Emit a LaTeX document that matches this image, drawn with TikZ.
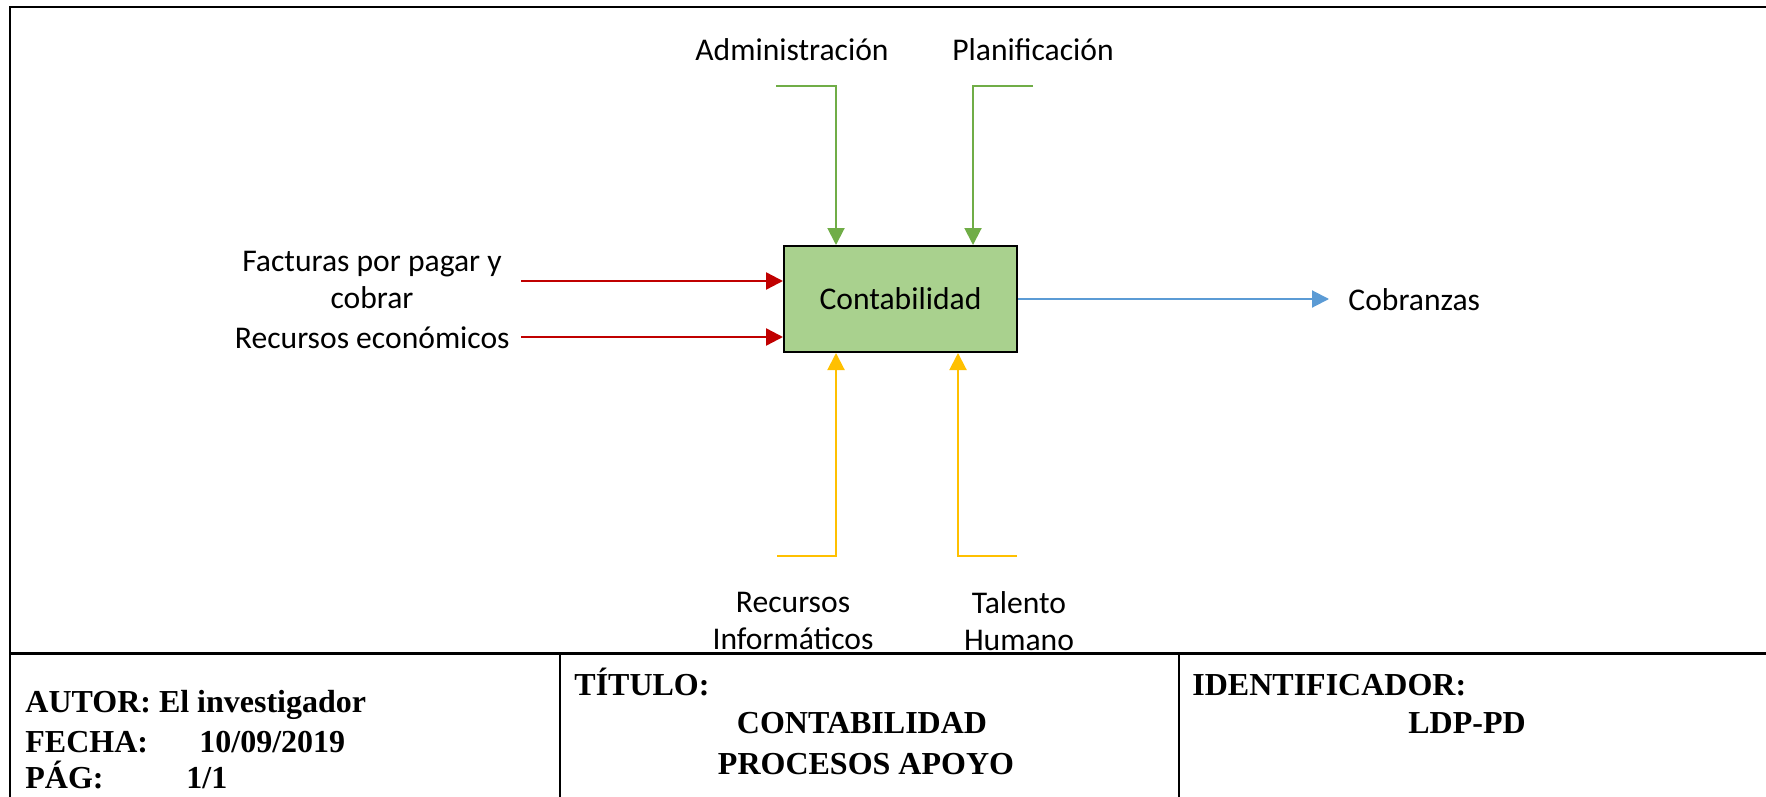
\documentclass[tikz,border=0pt]{standalone}
\usepackage{fontspec}
\setmainfont{Liberation Serif}
\newfontfamily\calibri{Carlito}
\usetikzlibrary{arrows.meta,positioning}
\definecolor{idefgreen}{RGB}{112,173,71}
\definecolor{idefbox}{RGB}{169,209,142}
\definecolor{idefyellow}{RGB}{255,192,0}
\definecolor{idefred}{RGB}{192,0,0}
\definecolor{idefblue}{RGB}{91,155,213}

\begin{document}
\begin{tikzpicture}[x=0.5pt,y=-0.5pt,
  lbl/.style={inner sep=0pt, align=center, font=\calibri\fontsize{15.8}{18.5}\selectfont},
  cell/.style={inner sep=0pt, anchor=base west, font=\bfseries\fontsize{16}{19}\selectfont},
  tip/.style={-{Triangle[length=8.5pt,width=8.5pt]}}]
  \useasboundingbox (0,0) rectangle (1766,797);
  % Process box
  \node[draw=black, fill=idefbox, line width=1pt, minimum width=116.5pt, minimum height=53pt,
        inner sep=0pt, font=\calibri\fontsize{15.8}{18.5}\selectfont] (conta) at (900.5,299) {Contabilidad};
  % Controls (top)
  \node[lbl] (admin) at (792,50) {Administración};
  \node[lbl] (plan) at (1033,50) {Planificación};
  \coordinate (adm-in) at (776,86);
  \coordinate (plan-in) at (1033,86);
  \draw[tip, idefgreen, line width=1pt] (adm-in) -| ([xshift=26.5pt]conta.north west);
  \draw[tip, idefgreen, line width=1pt] (plan-in) -| ([xshift=-22.5pt]conta.north east);
  % Inputs (left)
  \node[lbl] (fact) at (372,280) {Facturas por pagar y\\cobrar};
  \node[lbl, anchor=east] (receco) at (510,338) {Recursos económicos};
  \coordinate (fact-in) at (521,281);
  \coordinate (rec-in) at (521,337);
  \draw[tip, idefred, line width=1.2pt] (fact-in) -- (fact-in -| conta.west);
  \draw[tip, idefred, line width=1.2pt] (rec-in) -- (rec-in -| conta.west);
  % Mechanisms (bottom)
  \node[lbl] (recinf) at (793,621) {Recursos\\Informáticos};
  \node[lbl] (talento) at (1019,621) {Talento\\Humano};
  \coordinate (inf-in) at (777,556);
  \coordinate (tal-in) at (1017,556);
  \draw[tip, idefyellow, line width=1pt] (inf-in) -| ([xshift=26.5pt]conta.south west);
  \draw[tip, idefyellow, line width=1pt] (tal-in) -| ([xshift=-30pt]conta.south east);
  % Output (right)
  \node[lbl, anchor=west] (cob) at (1348,300) {Cobranzas};
  \draw[tip, idefblue, line width=1pt, shorten >=9.5pt] (conta.east) -- (conta.east -| cob.west);
  % Frame and title block
  \draw[line width=1.2pt] (10,797) -- (10,7) -- (1766,7);
  \draw[line width=1.5pt] (10,653) -- (1766,653);
  \draw[line width=0.8pt] (560,653) -- (560,797);
  \draw[line width=0.8pt] (1179,653) -- (1179,797);
  \node[cell] (autor) at (25,712) {AUTOR: El investigador};
  \node[cell] (fecha) at (25,752) {FECHA:};
  \node[cell] (fechav) at (199,752) {10/09/2019};
  \node[cell] (pag) at (25,788) {PÁG:};
  \node[cell] (pagv) at (186,788) {1/1};
  \node[cell] (titulo) at (574,695) {TÍTULO:};
  \node[cell, anchor=base] (titv1) at (862,733) {CONTABILIDAD};
  \node[cell, anchor=base] (titv2) at (866,774) {PROCESOS APOYO};
  \node[cell] (ident) at (1192,695) {IDENTIFICADOR:};
  \node[cell, anchor=base] (identv) at (1467,733) {LDP-PD};
\end{tikzpicture}
\end{document}
